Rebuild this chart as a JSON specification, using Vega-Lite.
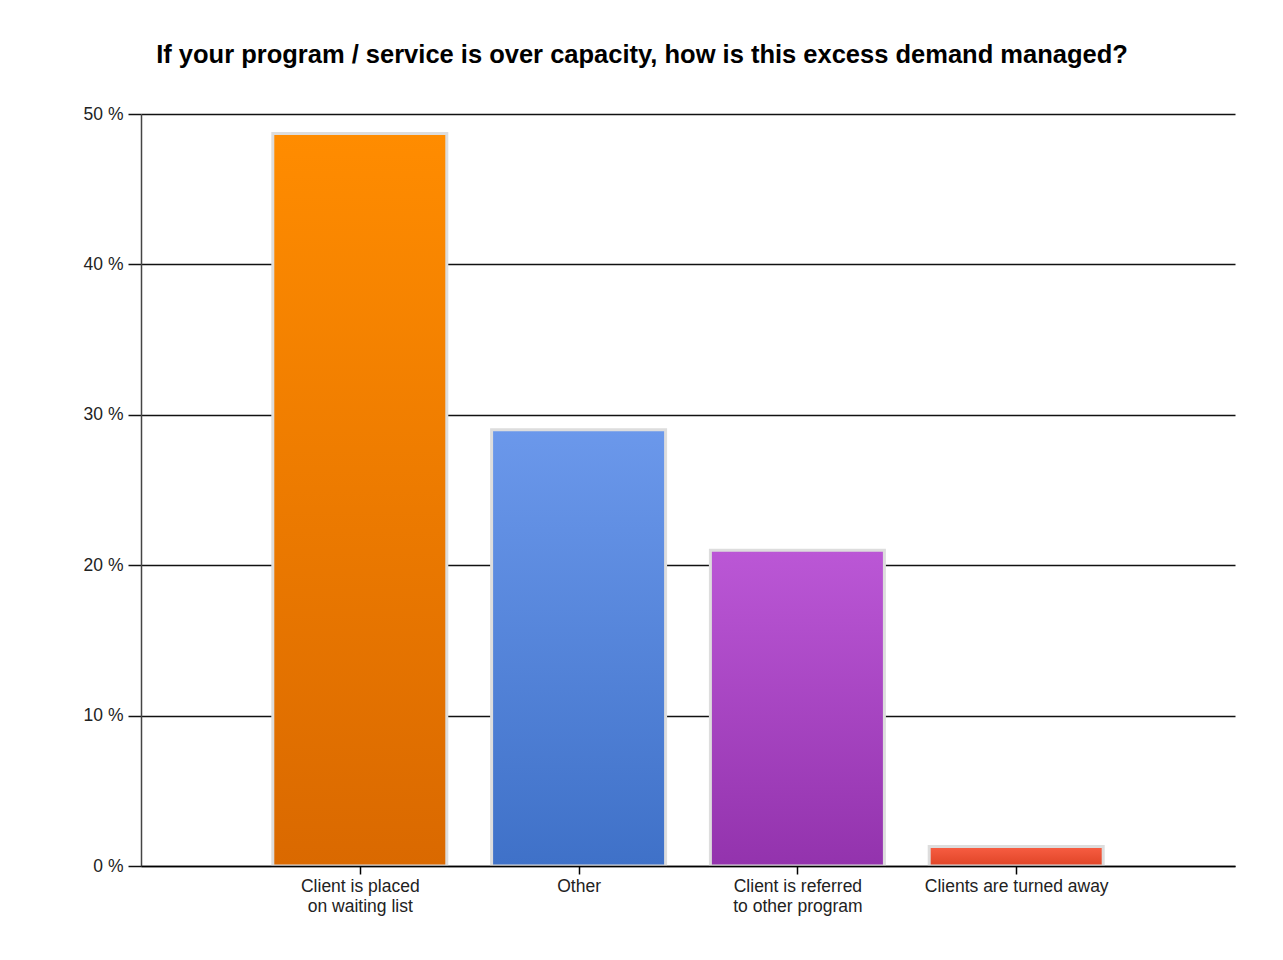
{
  "$schema": "https://vega.github.io/schema/vega-lite/v6.json",
  "autosize": "none",
  "width": 1094,
  "height": 752,
  "padding": {"left": 141, "top": 114, "right": 48, "bottom": 94},
  "background": "white",
  "config": {
    "view": {"stroke": null},
    "font": "Liberation Sans"
  },
  "title": {
    "text": "If your program / service is over capacity, how is this excess demand managed?",
    "font": "Liberation Sans",
    "fontSize": 25.5,
    "fontWeight": "bold",
    "color": "#000000",
    "anchor": "middle",
    "dx": -46,
    "offset": 37
  },
  "data": {
    "values": [
      {"response": "Client is placed\non waiting list", "percent": 48.7},
      {"response": "Other", "percent": 29.0},
      {"response": "Client is referred\nto other program", "percent": 21.0},
      {"response": "Clients are turned away", "percent": 1.3}
    ]
  },
  "encoding": {
    "x": {
      "field": "response",
      "type": "nominal",
      "sort": null,
      "scale": {"type": "point", "padding": 1},
      "axis": {
        "title": null,
        "labelAngle": 0,
        "labelExpr": "split(datum.value, '\\n')",
        "labelFontSize": 17.5,
        "labelFont": "Liberation Sans",
        "labelColor": "#222222",
        "labelLineHeight": 20,
        "labelLimit": 400,
        "labelPadding": 3,
        "domainColor": "#000000",
        "domainWidth": 1.5,
        "tickColor": "#000000",
        "tickWidth": 1.5,
        "tickSize": 8,
        "zindex": 1
      }
    },
    "y": {
      "field": "percent",
      "type": "quantitative",
      "scale": {"domain": [0, 50], "nice": false},
      "axis": {
        "title": null,
        "values": [0, 10, 20, 30, 40, 50],
        "labelExpr": "datum.value + ' %'",
        "labelFontSize": 17.5,
        "labelFont": "Liberation Sans",
        "labelColor": "#222222",
        "labelPadding": 5,
        "grid": true,
        "gridColor": "#111111",
        "gridWidth": 1.5,
        "domainColor": "#444444",
        "domainWidth": 1.5,
        "tickColor": "#111111",
        "tickWidth": 1.5,
        "tickSize": 13,
        "zindex": 0
      }
    }
  },
  "layer": [
    {
      "transform": [{"filter": "datum.response == 'Client is placed\\non waiting list'"}],
      "mark": {
        "type": "bar", "width": 174, "stroke": "#dddddd", "strokeWidth": 3,
        "fill": {"gradient": "linear", "x1": 0, "y1": 0, "x2": 0, "y2": 1,
          "stops": [{"offset": 0, "color": "#ff8c00"}, {"offset": 1, "color": "#da6900"}]}
      }
    },
    {
      "transform": [{"filter": "datum.response == 'Other'"}],
      "mark": {
        "type": "bar", "width": 174, "stroke": "#dddddd", "strokeWidth": 3,
        "fill": {"gradient": "linear", "x1": 0, "y1": 0, "x2": 0, "y2": 1,
          "stops": [{"offset": 0, "color": "#6b98eb"}, {"offset": 1, "color": "#3f71c8"}]}
      }
    },
    {
      "transform": [{"filter": "datum.response == 'Client is referred\\nto other program'"}],
      "mark": {
        "type": "bar", "width": 174, "stroke": "#dddddd", "strokeWidth": 3,
        "fill": {"gradient": "linear", "x1": 0, "y1": 0, "x2": 0, "y2": 1,
          "stops": [{"offset": 0, "color": "#bb57d6"}, {"offset": 1, "color": "#9333ad"}]}
      }
    },
    {
      "transform": [{"filter": "datum.response == 'Clients are turned away'"}],
      "mark": {
        "type": "bar", "width": 174, "stroke": "#dddddd", "strokeWidth": 3,
        "fill": {"gradient": "linear", "x1": 0, "y1": 0, "x2": 0, "y2": 1,
          "stops": [{"offset": 0, "color": "#f85e43"}, {"offset": 1, "color": "#df4426"}]}
      }
    }
  ]
}
